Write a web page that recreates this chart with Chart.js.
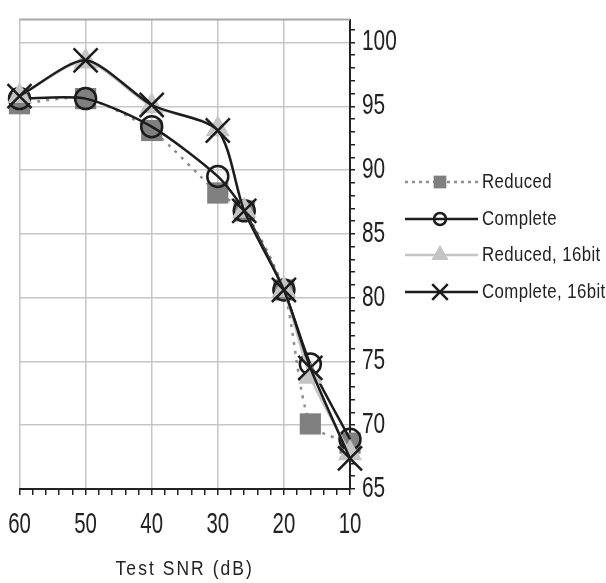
<!DOCTYPE html>
<html>
<head>
<meta charset="utf-8">
<script src="https://cdn.jsdelivr.net/npm/chart.js@4/dist/chart.umd.min.js"></script>
<style>
  html, body { margin: 0; padding: 0; background: #fff; }
  canvas { display: block; }
</style>
</head>
<body>
<canvas id="snrChart" width="606" height="583"></canvas>
<script>
const FONT = '"Liberation Sans", Arial, sans-serif';

// Test SNR values (dB) and recognition results
const snr = [60, 50, 40, 30, 26, 20, 16, 10];
const reduced = [95.2, 95.6, 93.1, 88.2, 86.8, 80.6, 70.1, 68.6];
const complete = [95.6, 95.6, 93.4, 89.5, 86.8, 80.6, 74.8, 68.9];
const reduced16 = [95.8, 98.5, 95.0, 93.2, 86.8, 80.6, 73.8, 67.8];
const complete16 = [95.8, 98.6, 95.1, 93.1, 86.8, 80.6, 74.5, 67.4];

const seriesLabels = ['Reduced', 'Complete', 'Reduced, 16bit', 'Complete, 16bit'];
const axisTitle = 'Test SNR (dB)';
const xLabels = [60, 50, 40, 30, 20, 10];
const yLabels = [65, 70, 75, 80, 85, 90, 95, 100];
const xTicks = [10, 12, 14, 16, 18, 20, 22, 24, 26, 28, 30, 32, 34, 36, 38, 40, 42, 44, 46, 48, 50, 52, 54, 56, 58, 60];
const yTicks = [65, 66, 67, 68, 69, 70, 71, 72, 73, 74, 75, 76, 77, 78, 79, 80, 81, 82, 83, 84, 85,
  86, 87, 88, 89, 90, 91, 92, 93, 94, 95, 96, 97, 98, 99, 100, 101];

const toPoints = vals => vals.map((v, i) => ({ x: snr[i], y: v }));

// narrow text: regular face squeezed horizontally
function narrowText(ctx, text, x, y, size, squeeze, align, spacing) {
  ctx.save();
  ctx.font = size + 'px ' + FONT;
  ctx.fillStyle = '#222';
  ctx.textAlign = align;
  ctx.textBaseline = 'middle';
  if (spacing) ctx.letterSpacing = spacing + 'px';
  ctx.translate(x, y);
  ctx.scale(squeeze, 1);
  ctx.fillText(text, 0, 0);
  ctx.restore();
}

/**
 * Tick labels and axis title
 */
const axisLabels = {
  id: 'axisLabels',
  afterDraw(chart) {
    const { ctx, scales, chartArea } = chart;
    xLabels.forEach(v => {
      narrowText(ctx, String(v), scales.x.getPixelForValue(v), 525, 30, 0.68, 'center');
    });
    yLabels.forEach(v => {
      narrowText(ctx, String(v), 362, scales.y.getPixelForValue(v), 29, 0.72, 'left');
    });
    narrowText(ctx, axisTitle, (chartArea.left + chartArea.right) / 2, 569, 21, 0.83, 'center', 2.5);
  }
};

/**
 * Legend drawn to the right of the value axis
 */
const sideLegend = {
  id: 'sideLegend',
  afterDraw(chart) {
    const ctx = chart.ctx;
    const rows = [182, 219, 255, 292];
    const markerSize = [9, 6, 10, 11];
    chart.data.datasets.forEach((ds, i) => {
      const y = rows[i];
      ctx.save();
      ctx.strokeStyle = ds.borderColor;
      ctx.lineWidth = ds.borderWidth;
      ctx.setLineDash(ds.borderDash ? [3, 4] : []);
      ctx.beginPath();
      ctx.moveTo(405, y);
      ctx.lineTo(478, y);
      ctx.stroke();
      ctx.setLineDash([]);
      ctx.fillStyle = ds.pointBackgroundColor;
      ctx.strokeStyle = ds.pointBorderColor;
      ctx.lineWidth = ds.pointBorderWidth;
      Chart.helpers.drawPoint(ctx, {
        pointStyle: ds.pointStyle,
        radius: markerSize[i],
        rotation: 0,
        borderWidth: ds.pointBorderWidth
      }, 440, y);
      ctx.restore();
      narrowText(ctx, ds.label, 482, y, 21, 0.8, 'left', 0.5);
    });
  }
};

/**
 * Gray frame line along the top of the plot
 */
const topFrame = {
  id: 'topFrame',
  beforeDatasetsDraw(chart) {
    const { ctx, chartArea } = chart;
    ctx.save();
    ctx.strokeStyle = '#a8a8a8';
    ctx.lineWidth = 2;
    ctx.beginPath();
    ctx.moveTo(chartArea.left, chartArea.top);
    ctx.lineTo(chartArea.right, chartArea.top);
    ctx.stroke();
    ctx.restore();
  }
};

new Chart(document.getElementById('snrChart'), {
  type: 'line',
  data: {
    datasets: [
      {
        label: seriesLabels[0],
        data: toPoints(reduced),
        borderColor: '#8e8e8e',
        borderWidth: 2.5,
        borderDash: [3, 6],
        pointStyle: 'rect',
        pointRadius: 15,
        pointBackgroundColor: '#808080',
        pointBorderColor: '#808080',
        pointBorderWidth: 0,
        order: 3
      },
      {
        label: seriesLabels[1],
        data: toPoints(complete),
        borderColor: '#1c1c1c',
        borderWidth: 2.5,
        pointStyle: 'circle',
        pointRadius: 10.5,
        pointBackgroundColor: 'rgba(0,0,0,0)',
        pointBorderColor: '#1c1c1c',
        pointBorderWidth: 2.5,
        order: 2
      },
      {
        label: seriesLabels[2],
        data: toPoints(reduced16),
        borderColor: '#c4c4c4',
        borderWidth: 2.5,
        pointStyle: 'triangle',
        pointRadius: 14,
        pointBackgroundColor: '#c4c4c4',
        pointBorderColor: '#c4c4c4',
        pointBorderWidth: 0,
        order: 1
      },
      {
        label: seriesLabels[3],
        data: toPoints(complete16),
        borderColor: '#1c1c1c',
        borderWidth: 2.5,
        pointStyle: 'crossRot',
        pointRadius: 17,
        pointBackgroundColor: '#1c1c1c',
        pointBorderColor: '#1c1c1c',
        pointBorderWidth: 2.5,
        order: 0
      }
    ]
  },
  options: {
    responsive: false,
    animation: false,
    devicePixelRatio: 1,
    clip: false,
    elements: {
      line: { tension: 0.25, fill: false }
    },
    layout: { padding: { left: 19, top: 11, right: 0, bottom: 0 } },
    plugins: {
      legend: { display: false },
      tooltip: { enabled: false }
    },
    scales: {
      x: {
        type: 'linear',
        reverse: true,
        min: 10,
        max: 60,
        afterBuildTicks: scale => { scale.ticks = xTicks.map(v => ({ value: v })); },
        afterFit: scale => { scale.height = 94; },
        ticks: { display: false, autoSkip: false },
        grid: {
          color: c => (c.tick && c.tick.value % 10 === 0 ? '#c6c6c6' : 'rgba(0,0,0,0)'),
          lineWidth: 1.5,
          tickColor: '#222',
          tickLength: 6,
          tickWidth: 1.5
        },
        border: { color: '#222', width: 2 }
      },
      y: {
        position: 'right',
        min: 65,
        max: 101.8,
        afterBuildTicks: scale => { scale.ticks = yTicks.map(v => ({ value: v })); },
        afterFit: scale => { scale.width = 256; },
        ticks: { display: false, autoSkip: false },
        grid: {
          color: c => (c.tick && c.tick.value % 5 === 0 ? '#c6c6c6' : 'rgba(0,0,0,0)'),
          lineWidth: 1.5,
          tickColor: '#222',
          tickLength: 5,
          tickWidth: 1.5
        },
        border: { color: '#222', width: 2 }
      }
    }
  },
  plugins: [topFrame, axisLabels, sideLegend]
});
</script>
</body>
</html>
